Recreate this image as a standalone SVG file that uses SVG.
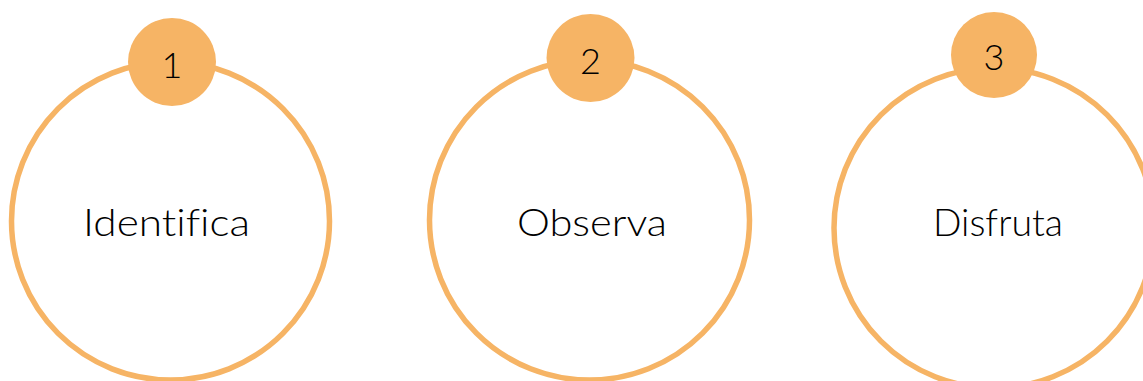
<svg xmlns="http://www.w3.org/2000/svg" width="1143" height="381" viewBox="0 0 1143 381">
<style>
.ring{fill:#ffffff;stroke:#F6B465;stroke-width:5.5}
.badge{fill:#F6B465}
.lbl{font-family:"Century Gothic","Lato","Open Sans",sans-serif;font-weight:300;font-size:37px;fill:#000000;text-anchor:middle;font-variant-ligatures:none}
.num{font-family:"Century Gothic","Lato","Open Sans",sans-serif;font-weight:300;font-size:36px;fill:#000000;text-anchor:middle}
</style>
<rect width="1143" height="381" fill="#ffffff"/>
<g id="connectors"></g>
<g id="node1">
<circle class="ring" cx="170.5" cy="221" r="159"/>
<circle class="badge" cx="172" cy="62" r="44"/>
<text class="num" x="172" y="78">1</text>
<text class="lbl" x="166.5" y="236" textLength="167" lengthAdjust="spacingAndGlyphs">Identifica</text>
</g>
<g id="node2">
<circle class="ring" cx="589.5" cy="220" r="160"/>
<circle class="badge" cx="590.5" cy="58" r="44"/>
<text class="num" x="590.5" y="74">2</text>
<text class="lbl" x="592" y="236" textLength="150" lengthAdjust="spacingAndGlyphs">Observa</text>
</g>
<g id="node3">
<circle class="ring" cx="994" cy="228" r="160"/>
<circle class="badge" cx="994" cy="55" r="43"/>
<text class="num" x="994" y="70">3</text>
<text class="lbl" x="998" y="236" textLength="130" lengthAdjust="spacingAndGlyphs">Disfruta</text>
</g>
</svg>
